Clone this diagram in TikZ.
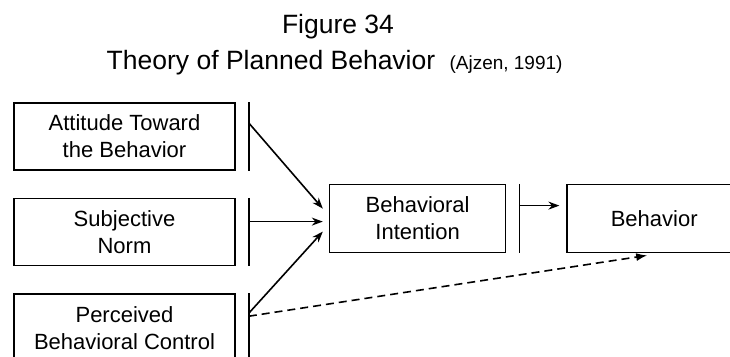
\documentclass[tikz,border=0pt]{standalone}
\usepackage{fontspec}
\setmainfont{Liberation Sans}
\usepackage{tikz}
\usetikzlibrary{positioning}
\usetikzlibrary{arrows.meta}
\tikzset{%
  solidarrow/.style = {-{Stealth[length=11pt,width=8pt]},solid,line width=1.6pt},
  dasharrow/.style = {-{Latex[length=11pt,width=8pt]},dash pattern=on 8pt off 5pt,line width=1.6pt},
  barline/.style = {line width=1.6pt},
  r/.style = {rectangle,draw,solid,line width=1.6pt,inner sep=0pt,
        align=center,font=\fontsize{22}{27}\selectfont,
        minimum width=221pt,minimum height=67pt},
  rr/.style = {r,minimum width=176pt,minimum height=68pt},
  ttl/.style = {anchor=base,font=\fontsize{26.5}{30}\selectfont}
}
\begin{document}
\begin{tikzpicture}[x=1pt,y=-1pt,node distance=27pt and 93pt]
                    \clip (0,0) rectangle (730,356);
                    \node[ttl] (fig) at (338,33) {Figure 34};
                    \node[ttl] (tpb) at (271,69) {Theory of Planned Behavior};
                    \node[ttl,anchor=base west,font=\fontsize{19}{21}\selectfont] (ref) at (446,69) {(Ajzen, 1991)};

                    \node[r] (att) at (124.5,136.5) {Attitude Toward\\the Behavior};
                    \node[r] (sub) [below=of att] {Subjective\\Norm};
                    \node[r] (per) [below=of sub] {Perceived\\Behavioral Control};
                    \node[rr] (int) [right=of sub,yshift=13.5pt] {Behavioral\\Intention};
                    \node[rr] (beh) [right=60pt of int,minimum width=174pt] {Behavior};

                    % bars beside the boxes
                    \draw[barline] ([xshift=13pt]att.north east) -- ([xshift=13pt]att.south east);
                    \draw[barline] ([xshift=13pt]sub.north east) -- ([xshift=13pt]sub.south east);
                    \draw[barline] ([xshift=13pt]per.north east) -- ([xshift=13pt]per.south east);
                    \draw[barline] ([xshift=13pt]int.north east) -- ([xshift=13pt]int.south east);

                    \coordinate (attout) at ([xshift=13pt,yshift=13.5pt]att.east);
                    \coordinate (subout) at ([xshift=13pt,yshift=10.5pt]sub.east);
                    \coordinate (perout) at ([xshift=13pt,yshift=14.5pt]per.east);
                    \coordinate (perdash) at ([xshift=13pt,yshift=11.5pt]per.east);
                    \coordinate (intout) at ([xshift=13pt,yshift=13pt]int.east);
                    \coordinate (in1) at ([xshift=-6pt,yshift=10pt]int.west);
                    \coordinate (in2) at ([xshift=-6pt,yshift=-3pt]int.west);
                    \coordinate (in3) at ([xshift=-6pt,yshift=-13pt]int.west);
                    \coordinate (behin) at ([xshift=-7pt]beh.west|-intout);
                    \coordinate (behdash) at ([xshift=-7pt,yshift=-2pt]beh.south);

                    \draw[solidarrow] (attout) -- (in1);
                    \draw[solidarrow] (subout) -- (in2);
                    \draw[solidarrow] (perout) -- (in3);
                    \draw[solidarrow] (intout) -- (behin);

                    \draw[dasharrow] (perdash) -- (behdash);
                 \end{tikzpicture}
\end{document}
